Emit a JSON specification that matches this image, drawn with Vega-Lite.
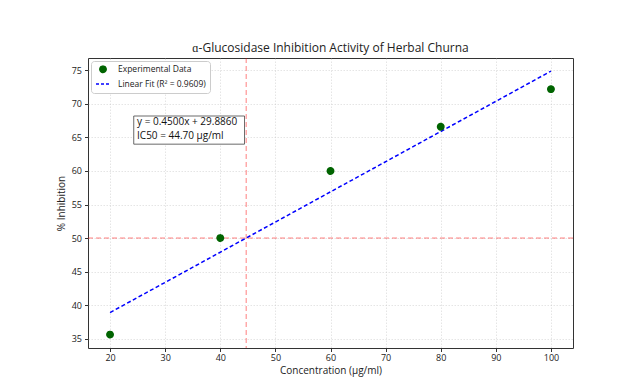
{
  "$schema": "https://vega.github.io/schema/vega-lite/v6.json",
  "width": 485,
  "height": 290,
  "autosize": {"type": "none"},
  "padding": {"left": 88, "top": 58, "right": 59, "bottom": 34},
  "background": "white",
  "title": {"text": "ɑ-Glucosidase Inhibition Activity of Herbal Churna", "fontSize": 12, "fontWeight": "normal", "font": "Open Sans", "color": "#222", "offset": 3},
  "config": {
    "font": "Open Sans",
    "view": {"stroke": "#333", "strokeWidth": 1},
    "axis": {
      "labelFontSize": 9, "titleFontSize": 10, "titleFontWeight": "normal", "labelColor": "#222", "titleColor": "#222",
      "tickSize": 3.5, "tickColor": "#333", "domain": false, "labelOverlap": false, "labelSeparation": 0,
      "gridColor": "#c8c8c8", "gridDash": [1.5, 1.5], "gridWidth": 0.6, "gridOpacity": 0.8
    },
    "axisY": {"tickCount": 9, "labelOverlap": false},
    "axisQuantitative": {"labelOverlap": false}
  },
  "datasets": {
    "points": [
      {"conc": 20, "inhibition": 35.6},
      {"conc": 40, "inhibition": 50.0},
      {"conc": 60, "inhibition": 60.0},
      {"conc": 80, "inhibition": 66.6},
      {"conc": 100, "inhibition": 72.2}
    ],
    "fit": [
      {"conc": 20, "fitted": 38.886},
      {"conc": 100, "fitted": 74.886}
    ],
    "ic50": [{"ic50": 44.70, "half": 50}],
    "note": [{"x1": 24.3, "x2": 44.4, "y1": 64.0, "y2": 68.2, "tx": 24.9, "ty": 67.3, "label": "y = 0.4500x + 29.8860\nIC50 = 44.70 µg/ml"}]
  },
  "layer": [
    {
      "data": {"name": "ic50"},
      "mark": {"type": "rule", "color": "red", "opacity": 0.5, "strokeDash": [5, 3], "strokeWidth": 1},
      "encoding": {"x": {"field": "ic50", "type": "quantitative", "title": "Concentration (µg/ml)",
        "axis": {"values": [20, 30, 40, 50, 60, 70, 80, 90, 100], "labelOverlap": false, "labelPadding": 2, "titlePadding": 3},
        "scale": {"domain": [16, 104], "nice": false, "zero": false}}}
    },
    {
      "data": {"name": "ic50"},
      "mark": {"type": "rule", "color": "red", "opacity": 0.5, "strokeDash": [5, 3], "strokeWidth": 1},
      "encoding": {"y": {"field": "half", "type": "quantitative", "title": "% Inhibition",
        "axis": {"values": [35, 40, 45, 50, 55, 60, 65, 70, 75], "tickCount": 9, "labelOverlap": false, "labelPadding": 3, "titlePadding": 5},
        "scale": {"domain": [33.6, 76.85], "nice": false, "zero": false}}}
    },
    {
      "data": {"name": "fit"},
      "mark": {"type": "line", "color": "blue", "strokeDash": [4, 2.5], "strokeWidth": 1.5},
      "encoding": {
        "x": {"field": "conc", "type": "quantitative", "title": "Concentration (µg/ml)",
          "axis": {"values": [20, 30, 40, 50, 60, 70, 80, 90, 100], "labelOverlap": false, "labelPadding": 2, "titlePadding": 3}},
        "y": {"field": "fitted", "type": "quantitative", "title": "% Inhibition",
          "axis": {"values": [35, 40, 45, 50, 55, 60, 65, 70, 75], "tickCount": 9, "labelOverlap": false, "labelPadding": 3, "titlePadding": 5}}
      }
    },
    {
      "data": {"name": "points"},
      "mark": {"type": "point", "filled": true, "opacity": 1, "strokeWidth": 1.5},
      "encoding": {
        "x": {"field": "conc", "type": "quantitative", "title": "Concentration (µg/ml)",
          "axis": {"values": [20, 30, 40, 50, 60, 70, 80, 90, 100], "labelOverlap": false, "labelPadding": 2, "titlePadding": 3}},
        "y": {"field": "inhibition", "type": "quantitative", "title": "% Inhibition",
          "axis": {"values": [35, 40, 45, 50, 55, 60, 65, 70, 75], "tickCount": 9, "labelOverlap": false, "labelPadding": 3, "titlePadding": 5}},
        "color": {
          "datum": "Experimental Data",
          "scale": {"domain": ["Experimental Data", "Linear Fit (R² = 0.9609)"], "range": ["darkgreen", "blue"]},
          "legend": {
            "title": null, "orient": "top-left", "offset": 3, "padding": 4,
            "strokeColor": "#ccc", "fillColor": "white", "cornerRadius": 3,
            "labelFontSize": 8.5, "labelColor": "#222", "rowPadding": 0, "labelOffset": 7, "symbolOpacity": 1
          }
        },
        "stroke": {
          "datum": "Experimental Data",
          "scale": {"domain": ["Experimental Data", "Linear Fit (R² = 0.9609)"], "range": ["darkgreen", "blue"]}
        },
        "shape": {
          "datum": "Experimental Data",
          "scale": {"domain": ["Experimental Data", "Linear Fit (R² = 0.9609)"], "range": ["circle", "stroke"]}
        },
        "strokeDash": {
          "datum": "Experimental Data",
          "scale": {"domain": ["Experimental Data", "Linear Fit (R² = 0.9609)"], "range": [[1, 0], [3, 2]]}
        },
        "size": {
          "datum": "Experimental Data", "type": "ordinal",
          "scale": {"domain": ["Experimental Data", "Linear Fit (R² = 0.9609)"], "range": [40, 196]}
        }
      }
    },
    {
      "data": {"name": "note"},
      "mark": {"type": "rect", "fill": "white", "stroke": "#444", "strokeWidth": 0.8},
      "encoding": {
        "x": {"field": "x1", "type": "quantitative"},
        "x2": {"field": "x2"},
        "y": {"field": "y1", "type": "quantitative"},
        "y2": {"field": "y2"}
      }
    },
    {
      "data": {"name": "note"},
      "mark": {"type": "text", "align": "left", "baseline": "middle", "fontSize": 10, "lineBreak": "\n", "lineHeight": 13.5, "color": "#111"},
      "encoding": {
        "x": {"field": "tx", "type": "quantitative"},
        "y": {"field": "ty", "type": "quantitative"},
        "text": {"field": "label"}
      }
    }
  ]
}
